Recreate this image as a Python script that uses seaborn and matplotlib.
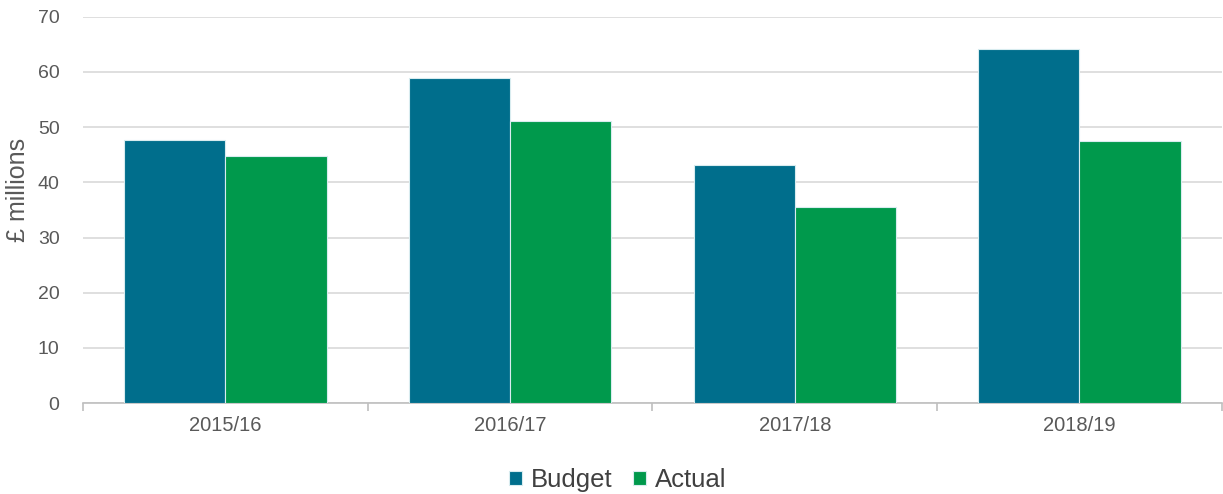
import numpy as np
import pandas as pd
import matplotlib
matplotlib.use("Agg")
import matplotlib.pyplot as plt
import seaborn as sns

years = ["2015/16", "2016/17", "2017/18", "2018/19"]
budget = [47.6, 58.9, 43.1, 64.2]
actual = [44.7, 51.2, 35.6, 47.5]

df = pd.DataFrame({
    "year": years * 2,
    "value": budget + actual,
    "series": ["Budget"] * 4 + ["Actual"] * 4,
})

sns.set_style("white")
plt.rcParams["font.family"] = ["Liberation Sans", "DejaVu Sans"]

fig, ax = plt.subplots(figsize=(12.23, 4.94), dpi=100)
fig.subplots_adjust(left=0.068, right=0.999, top=0.966, bottom=0.184)

sns.barplot(data=df, x="year", y="value", hue="series",
            palette={"Budget": "#006E8C", "Actual": "#00994C"},
            saturation=1, width=0.71, gap=0.0, edgecolor="#d8ecef",
            linewidth=0.8, ax=ax, zorder=3)

ax.set_ylim(0, 70)
ax.set_yticks(range(0, 71, 10))
ax.set_xlim(-0.5, 3.5)
ax.yaxis.grid(True, color="#d9d9d9", linewidth=1.2, zorder=0)
ax.set_axisbelow(True)
ax.set_xlabel("")
ax.set_ylabel("£ millions", fontsize=18, color="#595959")
ax.yaxis.set_label_coords(-0.047, 0.553)
ax.tick_params(axis="y", labelsize=14, colors="#595959", length=0, pad=17)
ax.tick_params(axis="x", labelsize=14.5, colors="#595959", length=0, pad=9)
ax.set_xticks(np.arange(-0.5, 3.6, 1), minor=True)
ax.tick_params(axis="x", which="minor", bottom=True, length=6,
               color="#bfbfbf", width=1.2)

for s in ["top", "right", "left"]:
    ax.spines[s].set_visible(False)
ax.spines["bottom"].set_color("#bfbfbf")
ax.spines["bottom"].set_linewidth(1.2)

handles, labels = ax.get_legend_handles_labels()
ax.get_legend().remove()
fig.legend(handles, labels, loc="center", bbox_to_anchor=(0.505, 0.028),
           ncol=2, frameon=False, fontsize=18.5, handlelength=0.5,
           handleheight=0.5, handletextpad=0.35, columnspacing=0.8,
           labelcolor="#404040")

fig.savefig("out.png", dpi=100)
